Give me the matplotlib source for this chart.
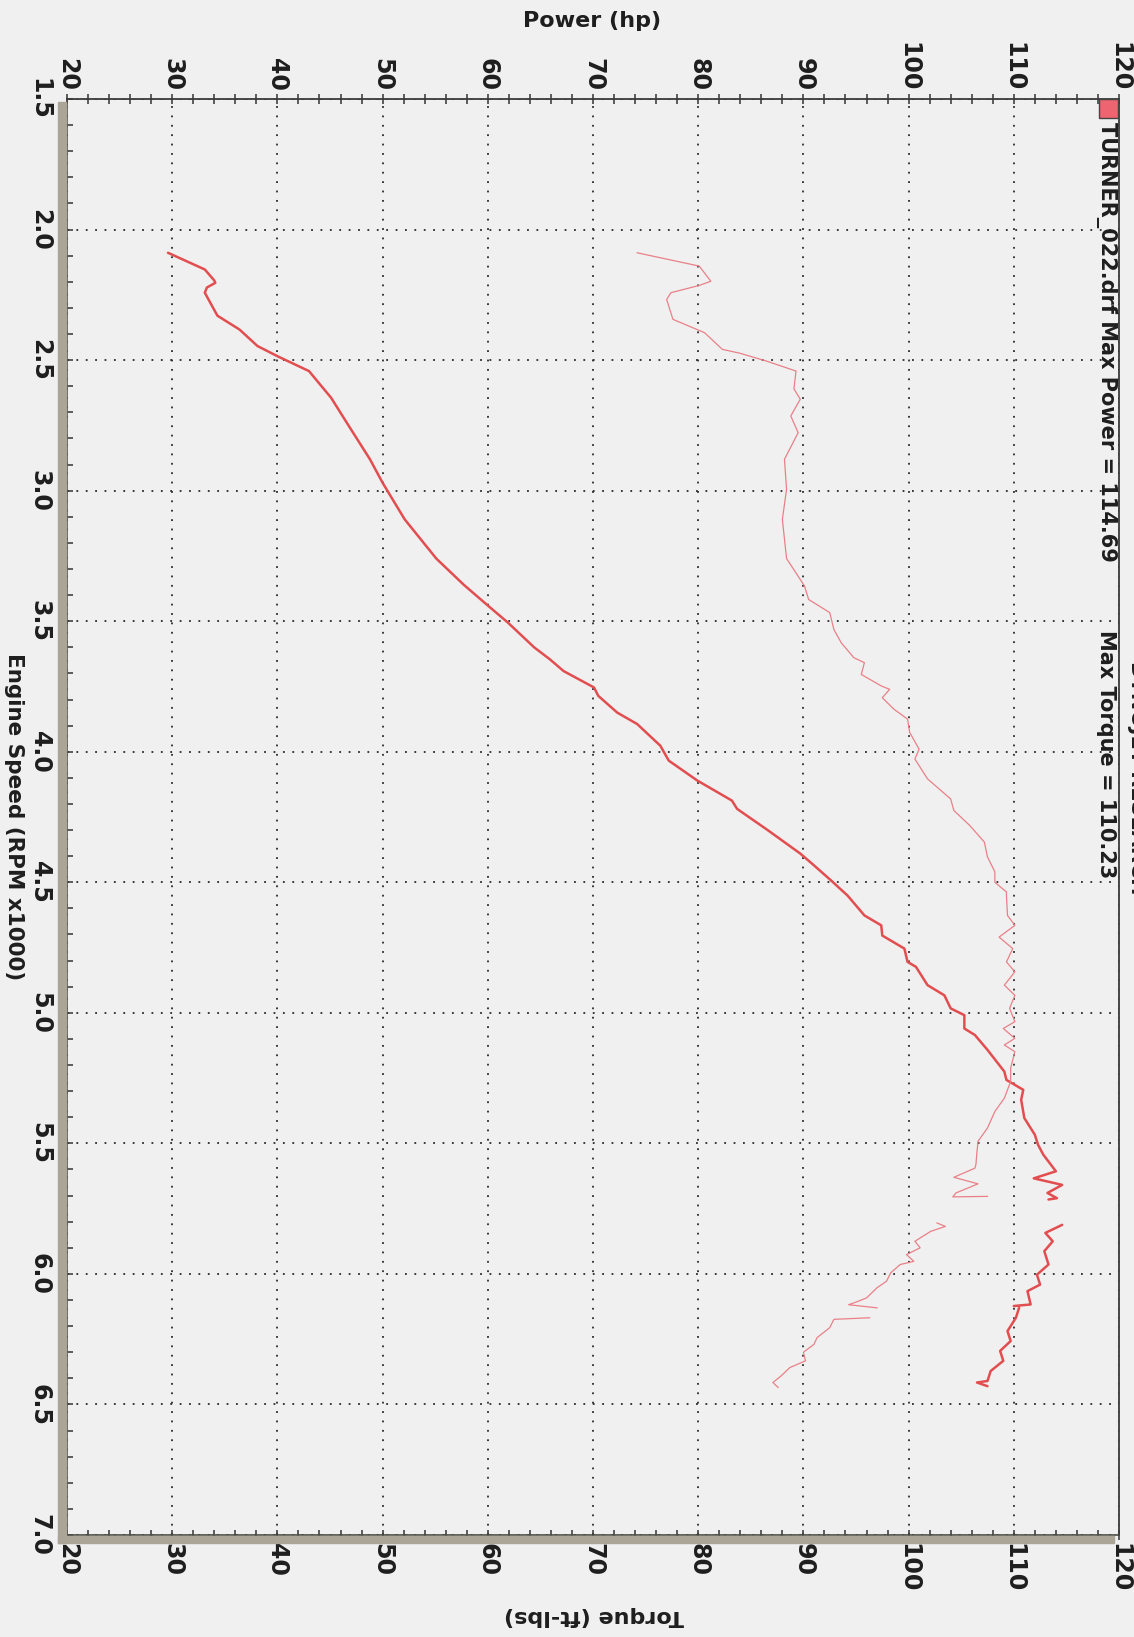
import numpy as np
import matplotlib
matplotlib.use("Agg")
import matplotlib.pyplot as plt
from matplotlib.patches import Rectangle

# engine speed (RPM x1000) and power (hp); nan splits the broken trace
power_rpm = [2.089, 2.153, 2.195, 2.204, 2.222, 2.242, 2.33, 2.383, 2.446, 2.485,
             2.542, 2.644, 2.753, 2.88, 2.97, 3.11, 3.26, 3.36, 3.44, 3.505,
             3.60, 3.646, 3.691, 3.754, 3.786, 3.85, 3.894, 3.977, 4.034, 4.11,
             4.187, 4.219, 4.30, 4.39, 4.435, 4.492, 4.551, 4.627, 4.665, 4.704,
             4.754, 4.805, 4.824, 4.894, 4.933, 4.983, 5.009, 5.06, 5.085, 5.142,
             5.225, 5.257, 5.295, 5.333, 5.403, 5.467, 5.505, 5.543, 5.607, 5.634,
             5.659, 5.69, 5.71, 5.715, np.nan,
             5.812, 5.843, 5.875, 5.913, 5.964, 6.003, 6.041, 6.066, 6.117, 6.123,
             np.nan,
             6.13, 6.168, 6.219, 6.257, 6.295, 6.333, 6.372, 6.41, 6.416, 6.43]
power_hp = [29.6, 33.1, 34.0, 34.1, 33.3, 33.1, 34.3, 36.4, 38.1, 40.0,
            43.0, 45.1, 46.8, 48.8, 50.0, 52.1, 55.1, 57.7, 60.0, 61.9,
            64.4, 65.9, 67.2, 70.1, 70.5, 72.3, 74.2, 76.4, 77.2, 79.9,
            83.2, 83.7, 86.6, 89.7, 91.0, 92.6, 94.2, 95.8, 97.4, 97.5,
            99.6, 99.9, 100.7, 101.8, 103.4, 104.0, 105.3, 105.3, 106.3, 107.5,
            109.1, 109.3, 110.9, 110.7, 111.0, 112.0, 112.3, 112.8, 114.0, 111.9,
            114.6, 113.2, 114.1, 113.3, np.nan,
            114.6, 113.0, 113.7, 112.9, 113.3, 112.2, 112.5, 111.3, 111.6, 110.0,
            np.nan,
            110.5, 110.2, 109.4, 109.7, 108.7, 109.0, 107.8, 107.5, 106.5, 107.5]

# engine speed and torque (ft-lbs)
torque_rpm = [2.089, 2.14, 2.198, 2.214, 2.242, 2.268, 2.344, 2.395, 2.459, 2.474,
              2.504, 2.542, 2.61, 2.65, 2.714, 2.778, 2.88, 2.995, 3.11, 3.26,
              3.365, 3.417, 3.467, 3.532, 3.583, 3.64, 3.659, 3.704, 3.748, 3.761,
              3.793, 3.837, 3.875, 3.926, 3.99, 4.028, 4.104, 4.181, 4.225, 4.282,
              4.346, 4.403, 4.46, 4.5, 4.537, 4.551, 4.627, 4.665, 4.71, 4.754,
              4.805, 4.843, 4.894, 4.933, 4.983, 5.034, 5.06, 5.098, 5.123, 5.149,
              5.212, 5.263, 5.327, 5.378, 5.441, 5.492, 5.532, 5.581, 5.595, 5.63,
              5.655, 5.69, 5.705, 5.703, np.nan,
              5.805, 5.818, 5.837, 5.875, 5.90, 5.926, 5.952, 5.964, 5.996, 6.028,
              6.053, 6.092, 6.105, 6.118, 6.13, np.nan,
              6.168, 6.174, 6.206, 6.244, 6.27, 6.30, 6.333, 6.359, 6.39, 6.416, 6.435]
torque_ftlb = [74.2, 80.1, 81.2, 80.1, 77.4, 77.0, 77.6, 80.6, 82.3, 84.0,
               86.5, 89.3, 89.1, 89.7, 88.8, 89.5, 88.2, 88.4, 88.0, 88.4,
               90.1, 90.5, 92.5, 92.9, 93.6, 94.8, 95.8, 95.5, 97.4, 98.2,
               97.5, 98.6, 99.9, 100.1, 101.0, 100.6, 101.8, 104.0, 104.3, 105.8,
               107.2, 107.5, 108.2, 108.2, 109.3, 109.3, 109.4, 110.1, 108.6, 109.9,
               109.3, 110.1, 109.1, 110.1, 109.6, 110.1, 109.0, 110.1, 109.1, 110.1,
               109.7, 109.7, 109.1, 108.2, 107.5, 106.6, 106.5, 106.4, 106.3, 104.3,
               106.6, 104.5, 104.2, 107.5, np.nan,
               102.7, 103.5, 102.1, 100.6, 101.1, 99.8, 100.5, 99.2, 98.3, 97.9,
               97.0, 96.0, 95.2, 94.3, 97.0, np.nan,
               96.3, 92.9, 92.5, 91.3, 91.0, 90.0, 90.2, 88.7, 87.9, 87.1, 87.6]

hp_ticks = list(range(20, 121, 10))
rpm_ticks = [1.5, 2.0, 2.5, 3.0, 3.5, 4.0, 4.5, 5.0, 5.5, 6.0, 6.5, 7.0]
legend_file = "TURNER_022.drf Max Power = 114.69"
legend_torque = "Max Torque = 110.23"

W, H = 1134, 1637


def fx(px):
    return px / W


def fy(py):
    return 1 - py / H


def main():
    paper = '#f1f0f0'
    ink = '#1e1e1e'
    fig = plt.figure(figsize=(W / 100, H / 100), dpi=100, facecolor=paper)
    ax = fig.add_axes([fx(67), fy(1535), fx(1119) - fx(67), fy(99) - fy(1535)])
    ax.set_facecolor(paper)

    ax.plot(power_hp, power_rpm, color='#e24e50', lw=1.8,
            solid_capstyle='round', solid_joinstyle='round')
    ax.plot(torque_ftlb, torque_rpm, color='#e98088', lw=0.9,
            solid_joinstyle='round')

    ax.set_xlim(20, 120)
    ax.set_ylim(7.0, 1.5)
    ax.set_xticks(hp_ticks)
    ax.set_xticks(np.arange(20, 121, 2), minor=True)
    ax.set_yticks(rpm_ticks)
    ax.set_yticks(np.arange(1.5, 7.01, 0.1), minor=True)
    ax.set_yticklabels([f'{v:.1f}' for v in rpm_ticks])
    ax.set_xticklabels([str(v) for v in hp_ticks])

    ax.grid(True, which='major', color='#2a2a2a', lw=1.3, ls=(0, (1, 4.2)))

    ax.tick_params(axis='x', which='both', top=True, bottom=True, labeltop=True,
                   labelbottom=True, direction='inout', length=7, width=1.1,
                   color='#333333')
    ax.tick_params(axis='x', which='major', labelsize=17, labelrotation=-90,
                   labelcolor=ink, pad=2)
    ax.tick_params(axis='y', which='both', left=True, right=False, direction='in',
                   length=4, width=1.1, color='#333333')
    ax.tick_params(axis='y', which='major', labelsize=17, labelrotation=-90,
                   labelcolor=ink, pad=11)
    for lab in ax.get_xticklabels() + ax.get_yticklabels():
        lab.set_fontweight('bold')
    for lab in ax.get_yticklabels():
        lab.set_va('center')

    for side in ['top', 'right']:
        ax.spines[side].set_color('#3a3a3a')
        ax.spines[side].set_linewidth(1.3)
    for side in ['left', 'bottom']:
        ax.spines[side].set_color('#4a4a44')
        ax.spines[side].set_linewidth(1.2)

    # thick grey frame edges on the left and bottom
    stripe = '#aba597'
    fig.patches.append(Rectangle((fx(58), fy(1543)), fx(66) - fx(58), fy(102) - fy(1543),
                                 transform=fig.transFigure, color=stripe, zorder=0))
    fig.patches.append(Rectangle((fx(58), fy(1543)), fx(1114) - fx(58), fy(1536) - fy(1543),
                                 transform=fig.transFigure, color=stripe, zorder=0))

    # legend swatch and text along the right edge
    fig.patches.append(Rectangle((fx(1099), fy(118)), fx(1118) - fx(1099), fy(99) - fy(118),
                                 transform=fig.transFigure, facecolor='#ee6470',
                                 edgecolor='#444444', lw=1.0, zorder=5))
    fig.text(fx(1106), fy(122), legend_file, rotation=-90, ha='center', va='top',
             fontsize=15, fontweight='bold', color=ink)
    fig.text(fx(1106), fy(630), legend_torque, rotation=-90, ha='center', va='top',
             fontsize=15, fontweight='bold', color=ink)
    # title is mostly off the edge of the scan
    fig.text(fx(1127), fy(778), 'DYNOJET RESEARCH', rotation=-90, ha='left',
             va='center', fontsize=15, fontweight='bold', color=ink)

    fig.text(fx(592), fy(21), 'Power (hp)', ha='center', va='center',
             fontsize=16, fontweight='bold', color=ink)
    fig.text(fx(594), fy(1616), 'Torque (ft-lbs)', rotation=180, ha='center',
             va='center', fontsize=16, fontweight='bold', color=ink)
    fig.text(fx(14), fy(817), 'Engine Speed (RPM x1000)', rotation=-90, ha='center',
             va='center', fontsize=15.5, fontweight='bold', color=ink)

    fig.savefig('out.png', dpi=100, facecolor=paper)
    plt.close(fig)


if __name__ == "__main__":
    main()
